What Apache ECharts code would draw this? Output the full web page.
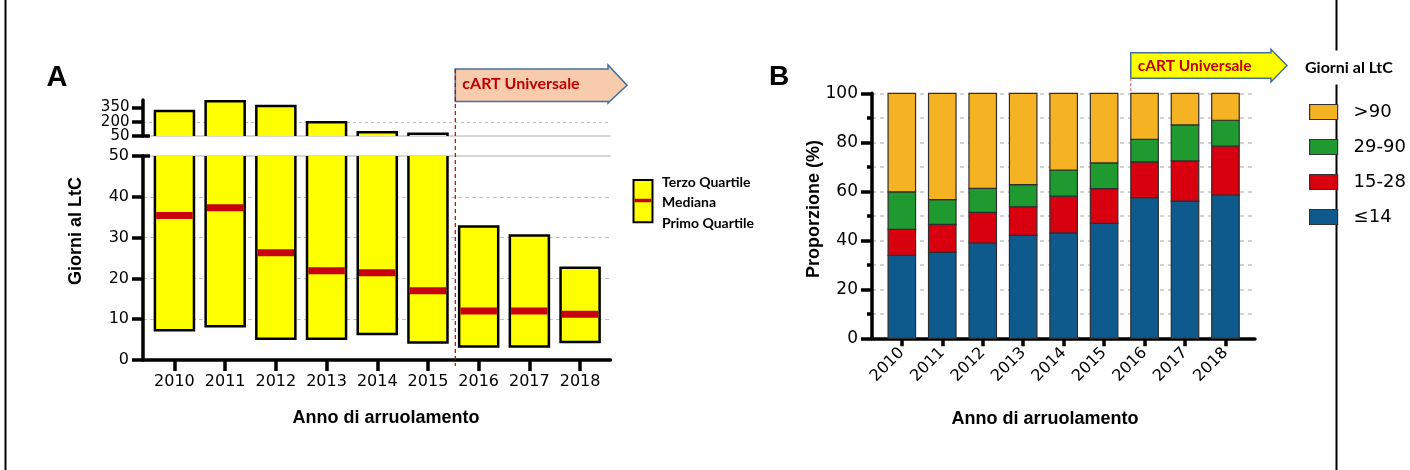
<!DOCTYPE html>
<html>
<head>
<meta charset="utf-8">
<script src="https://cdn.jsdelivr.net/npm/echarts@6/dist/echarts.min.js"></script>
<style>
  html, body { margin: 0; padding: 0; background: #ffffff; }
  #chart { width: 1410px; height: 470px; }
</style>
</head>
<body>
<div id="chart"></div>
<script>
// Enrolment years (shared by both panels)
const years = ['2010', '2011', '2012', '2013', '2014', '2015', '2016', '2017', '2018'];

// Panel A: days to linkage to care — first quartile, median, third quartile
const q1Days     = [7.3, 8.3, 5.2, 5.2, 6.4, 4.3, 3.3, 3.3, 4.4];
const medianDays = [35.4, 37.3, 26.3, 21.9, 21.4, 17.0, 12.0, 12.0, 11.2];
const q3Days     = [314, 417, 367, 195, 89, 75, 32.7, 30.5, 22.6];

// Panel A tick labels of the upper (compressed) segment
const upperTicksA = [50, 200, 350];

// Panel B: share of patients (%) by days to linkage
const upTo14   = [33.9, 35.2, 38.9, 42.0, 43.0, 46.9, 57.4, 56.0, 58.5];
const d15to28  = [10.6, 11.3, 12.5, 11.7, 15.0, 14.2, 14.6, 16.4, 20.0];
const d29to90  = [15.3, 10.1, 9.8, 9.0, 10.7, 10.5, 9.2, 14.7, 10.5];
const over90   = [40.2, 43.4, 38.8, 37.3, 31.3, 28.4, 18.8, 12.9, 11.0];

const classNames  = ['\u226414', '15-28', '29-90', '>90'];
const classValues = [upTo14, d15to28, d29to90, over90];
const classColors = ['#0e5a8d', '#d8000f', '#1f9a31', '#f5b324'];

const tickFont = 'DejaVu Sans';
const yearIdx = years.map((_, i) => i);

const chart = echarts.init(document.getElementById('chart'), null, { renderer: 'canvas' });

// Interquartile box, clipped by the grid so the broken axis cuts it cleanly
function renderBox(params, api) {
  const x = api.value(0);
  const lo = api.coord([x, api.value(1)]);
  const hi = api.coord([x, api.value(2)]);
  const w = api.size([1, 0])[0] * 0.77;
  return {
    type: 'rect',
    shape: { x: lo[0] - w / 2, y: hi[1], width: w, height: lo[1] - hi[1] },
    style: { fill: '#ffff00', stroke: '#000000', lineWidth: 2.5 }
  };
}

function renderMedian(params, api) {
  const p = api.coord([api.value(0), api.value(1)]);
  const w = api.size([1, 0])[0] * 0.77 - 2.5;
  return {
    type: 'rect',
    shape: { x: p[0] - w / 2, y: p[1] - 3.5, width: w, height: 7 },
    style: { fill: '#c8000e' }
  };
}

// One stacked segment of a proportion bar
function renderSegment(params, api) {
  const x = api.value(0);
  const lo = api.coord([x, api.value(1)]);
  const hi = api.coord([x, api.value(2)]);
  const w = api.size([1, 0])[0] * 0.68;
  return {
    type: 'rect',
    shape: { x: lo[0] - w / 2, y: hi[1], width: w, height: lo[1] - hi[1] },
    style: api.style({ stroke: '#2e2e2e', lineWidth: 1.2 })
  };
}

const boxData = years.map((_, i) => [i, q1Days[i], q3Days[i]]);
const medianData = years.map((_, i) => [i, medianDays[i]]);

// cumulative bottoms/tops of the stacked shares
const stackBase = years.map(() => 0);
const segmentData = classValues.map(values => values.map((v, i) => {
  const row = [i, stackBase[i], stackBase[i] + v];
  stackBase[i] += v;
  return row;
}));

const axisBlack = { show: true, onZero: false, lineStyle: { color: '#000', width: 3.5 } };
const tickBlack = (len) => ({ show: true, interval: 0, length: len, lineStyle: { color: '#000', width: 3.5 } });

const option = {
  animation: false,
  backgroundColor: '#ffffff',
  grid: [
    { left: 143, top: 100, width: 467.5, height: 36 },
    { left: 143, top: 156, width: 467.5, height: 204 },
    { left: 872, top: 93.3, width: 383, height: 245 }
  ],
  xAxis: [
    { gridIndex: 0, type: 'value', min: -0.62, max: 8.6, show: false },
    {
      gridIndex: 1, type: 'value', min: -0.62, max: 8.6,
      axisLine: axisBlack,
      axisTick: Object.assign(tickBlack(11), { customValues: yearIdx }),
      axisLabel: {
        customValues: yearIdx, formatter: v => years[v], margin: 14, interval: 0,
        fontFamily: tickFont, fontSize: 16, color: '#000'
      },
      splitLine: { show: false }
    },
    {
      gridIndex: 2, type: 'value', min: -0.737, max: 8.73,
      axisLine: axisBlack,
      axisTick: Object.assign(tickBlack(8), { customValues: yearIdx }),
      axisLabel: {
        customValues: yearIdx, formatter: v => years[v], margin: 12, rotate: 45, interval: 0,
        fontFamily: tickFont, fontSize: 16, color: '#000'
      },
      splitLine: { show: false }
    }
  ],
  yAxis: [
    {
      // upper segment: its labels sit too close for the auto layout, they are set as text below
      gridIndex: 0, type: 'value', min: 50, max: 430, interval: 150,
      axisLine: axisBlack,
      axisTick: Object.assign(tickBlack(11), { customValues: upperTicksA }),
      axisLabel: { show: false },
      splitLine: {
        show: true, interval: 0, showMinLine: false, showMaxLine: false,
        lineStyle: { color: '#bdbdbd', width: 1, type: [3, 3] }
      }
    },
    {
      gridIndex: 1, type: 'value', min: 0, max: 50, interval: 10,
      axisLine: axisBlack,
      axisTick: tickBlack(11),
      axisLabel: { margin: 14, interval: 0, showMinLabel: true, showMaxLabel: true, fontFamily: tickFont, fontSize: 16, color: '#000' },
      splitLine: { show: true, showMinLine: false, showMaxLine: false, lineStyle: { color: '#c4c4c4', width: 1, type: [4, 3] } }
    },
    {
      gridIndex: 2, type: 'value', min: 0, max: 100, interval: 20,
      axisLine: axisBlack,
      axisTick: tickBlack(11),
      minorTick: { show: true, splitNumber: 2, length: 5, lineStyle: { color: '#000', width: 3.5 } },
      axisLabel: { margin: 14, interval: 0, showMinLabel: true, showMaxLabel: true, fontFamily: tickFont, fontSize: 17, color: '#000' },
      splitLine: { show: true, showMinLine: false, lineStyle: { color: '#c4c4c4', width: 1.5, type: [4, 4] } },
      minorSplitLine: { show: true, lineStyle: { color: '#c4c4c4', width: 1.5, type: [4, 4] } }
    }
  ],
  legend: {
    data: classNames.slice().reverse(),
    orient: 'vertical',
    left: 1309, top: 103,
    padding: 0,
    itemWidth: 28, itemHeight: 15, itemGap: 17,
    icon: 'rect',
    itemStyle: { borderColor: '#333', borderWidth: 1.2 },
    textStyle: { fontFamily: tickFont, fontSize: 18, color: '#000', padding: [0, 0, 0, 11] },
    selectedMode: false
  },
  series: [
    { type: 'custom', xAxisIndex: 0, yAxisIndex: 0, clip: true, renderItem: renderBox, data: boxData, encode: { x: 0, y: [1, 2] }, z: 3 },
    { type: 'custom', xAxisIndex: 1, yAxisIndex: 1, clip: true, renderItem: renderBox, data: boxData, encode: { x: 0, y: [1, 2] }, z: 3 },
    { type: 'custom', xAxisIndex: 1, yAxisIndex: 1, clip: true, renderItem: renderMedian, data: medianData, encode: { x: 0, y: 1 }, z: 4 }
  ].concat(classNames.map((name, k) => ({
    name: name,
    type: 'custom',
    xAxisIndex: 2, yAxisIndex: 2,
    renderItem: renderSegment,
    itemStyle: { color: classColors[k] },
    data: segmentData[k],
    encode: { x: 0, y: [1, 2] },
    z: 3
  })))
};

chart.setOption(option);

// Annotations placed from the axes' own pixel mapping
const toPx = (g, v) => chart.convertToPixel({ gridIndex: g }, v);
const aUp50 = toPx(0, [0, 50]);
const aLow50 = toPx(1, [0, 50]);
const aAxisX = toPx(1, [-0.62, 0])[0];
const aRight = toPx(1, [8.6, 0])[0];
const aZeroY = toPx(1, [0, 0])[1];
const aSplitX = (toPx(1, [5, 0])[0] + toPx(1, [6, 0])[0]) / 2 + 2;
const bBar16Left = toPx(2, [6, 100])[0] - 13.8;
const bTopY = toPx(2, [6, 100])[1];

function arrowShape(x0, x1, tip, top, bottom, headTop, headBottom) {
  const mid = (top + bottom) / 2;
  return [[x0, top], [x1, top], [x1, headTop], [tip, mid], [x1, headBottom], [x1, bottom], [x0, bottom]];
}

const centered = { textAlign: 'center', textVerticalAlign: 'middle', fill: '#000' };

// tick labels of the compressed upper segment
const upperLabels = upperTicksA.map(v => ({
  type: 'text',
  x: aAxisX - 13.5,
  y: toPx(0, [0, v])[1],
  style: { text: String(v), font: '15px "DejaVu Sans"', fill: '#000', textAlign: 'right', textVerticalAlign: 'middle' },
  z: 5
}));

const graphics = [
  // page frame lines
  { type: 'line', shape: { x1: 5.5, y1: 0, x2: 5.5, y2: 470 }, style: { stroke: '#000', lineWidth: 2 }, z: 1 },
  { type: 'line', shape: { x1: 1336.5, y1: 0, x2: 1336.5, y2: 470 }, style: { stroke: '#000', lineWidth: 2 }, z: 1 },

  // panel letters
  { type: 'text', x: 57, y: 78, style: Object.assign({ text: 'A', font: 'bold 29px "Liberation Sans"' }, centered) },
  { type: 'text', x: 779, y: 77, style: Object.assign({ text: 'B', font: 'bold 28px "Liberation Sans"' }, centered) },

  // break edges of panel A
  { type: 'line', shape: { x1: aAxisX, y1: aUp50[1], x2: aRight, y2: aUp50[1] }, style: { stroke: '#c8c8c8', lineWidth: 1.5 }, z: 2 },
  { type: 'line', shape: { x1: aAxisX, y1: aLow50[1], x2: aRight, y2: aLow50[1] }, style: { stroke: '#c8c8c8', lineWidth: 1.5 }, z: 2 },
  { type: 'line', shape: { x1: aAxisX, y1: aUp50[1], x2: aAxisX + 7, y2: aUp50[1] }, style: { stroke: '#000', lineWidth: 3.5 }, z: 5 },
  { type: 'line', shape: { x1: aAxisX, y1: aLow50[1], x2: aAxisX + 7, y2: aLow50[1] }, style: { stroke: '#000', lineWidth: 3.5 }, z: 5 },

  // axis titles
  { type: 'text', x: 386, y: 418, style: Object.assign({ text: 'Anno di arruolamento', font: 'bold 18px "Liberation Sans"' }, centered) },
  { type: 'text', x: 1045, y: 419, style: Object.assign({ text: 'Anno di arruolamento', font: 'bold 18px "Liberation Sans"' }, centered) },
  { type: 'text', x: 76, y: 231, rotation: Math.PI / 2, style: Object.assign({ text: 'Giorni al LtC', font: 'bold 18px "Liberation Sans"' }, centered) },
  { type: 'text', x: 814, y: 209, rotation: Math.PI / 2, style: Object.assign({ text: 'Proporzione (%)', font: 'bold 18px "Liberation Sans"' }, centered) },

  // cART marker, panel A
  { type: 'polygon', shape: { points: arrowShape(aSplitX, 608, 627, 69, 101.5, 65, 103) }, style: { fill: '#f8cbad', stroke: '#41719c', lineWidth: 1.5 }, z: 5 },
  { type: 'line', shape: { x1: aSplitX, y1: 69, x2: aSplitX, y2: aZeroY + 6 }, style: { stroke: '#c00000', lineWidth: 1.2, lineDash: [4, 3] }, z: 6 },
  { type: 'text', x: aSplitX + 7, y: 84, style: { text: 'cART Universale', font: 'bold 16px Lato', fill: '#c00000', textVerticalAlign: 'middle' }, z: 7 },

  // cART marker, panel B
  { type: 'polygon', shape: { points: arrowShape(bBar16Left, 1271, 1287, 52.7, 78.3, 49.3, 82) }, style: { fill: '#ffff00', stroke: '#41719c', lineWidth: 1.5 }, z: 5 },
  { type: 'line', shape: { x1: bBar16Left, y1: 78.3, x2: bBar16Left, y2: bTopY }, style: { stroke: '#e06a6a', lineWidth: 1.2, lineDash: [3, 2] }, z: 6 },
  { type: 'text', x: bBar16Left + 7, y: 65.5, style: { text: 'cART Universale', font: 'bold 15.5px Lato', fill: '#c00000', textVerticalAlign: 'middle' }, z: 7 },

  // key of panel A
  { type: 'rect', shape: { x: 633.5, y: 180, width: 19, height: 42.3 }, style: { fill: '#ffff00', stroke: '#000', lineWidth: 2 }, z: 5 },
  { type: 'line', shape: { x1: 634.5, y1: 200.5, x2: 651.5, y2: 200.5 }, style: { stroke: '#c8000e', lineWidth: 3.5 }, z: 6 },
  { type: 'text', x: 662, y: 182.5, style: { text: 'Terzo Quartile', font: 'bold 14px Lato', fill: '#000', textVerticalAlign: 'middle' } },
  { type: 'text', x: 662, y: 202.5, style: { text: 'Mediana', font: 'bold 14px Lato', fill: '#000', textVerticalAlign: 'middle' } },
  { type: 'text', x: 662, y: 223.5, style: { text: 'Primo Quartile', font: 'bold 14px Lato', fill: '#000', textVerticalAlign: 'middle' } },

  // key title of panel B
  { type: 'text', x: 1304, y: 67.5, style: { text: 'Giorni al LtC', font: 'bold 16px Lato', fill: '#000', textVerticalAlign: 'middle', backgroundColor: '#ffffff', padding: [9, 1] }, z: 8 }
].concat(upperLabels);

chart.setOption({ graphic: graphics });
</script>
</body>
</html>
